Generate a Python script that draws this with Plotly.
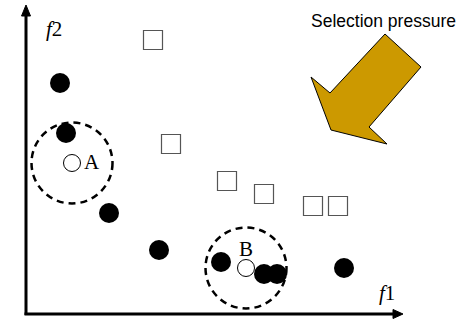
import plotly.graph_objects as go

# objective space (f1 to the right, f2 upwards)
front_f1 = [34, 40, 83, 133, 195, 238, 251, 318]
front_f2 = [231, 181, 101, 64, 52, 40, 40, 46]

dominated_f1 = [127, 145, 201, 238, 287, 312]
dominated_f2 = [274, 170, 133, 120, 108, 108]

selected_names = ["A", "B"]
selected_f1 = [46, 220]
selected_f2 = [151, 46]

niche_radius = 40.5

SERIF = "Liberation Serif, Times New Roman, serif"
SANS = "Arial, Liberation Sans, sans-serif"

fig = go.Figure()

# dashed neighbourhoods around A and B
shapes = []
for x, y in zip(selected_f1, selected_f2):
    shapes.append(dict(type="circle", xref="x", yref="y",
                       x0=x - niche_radius, x1=x + niche_radius,
                       y0=y - niche_radius, y1=y + niche_radius,
                       line=dict(color="black", width=2.5, dash="7px,5px"),
                       layer="below"))

# axes with arrow heads
shapes.append(dict(type="line", x0=0, y0=-1, x1=0, y1=300, line=dict(color="black", width=3)))
shapes.append(dict(type="path", path="M -4.5 298 L 0 309 L 4.5 298 Z",
                   fillcolor="black", line=dict(color="black", width=1)))
shapes.append(dict(type="line", x0=-1.5, y0=0, x1=368, y1=0, line=dict(color="black", width=3)))
shapes.append(dict(type="path", path="M 367 4.5 L 377 0 L 367 -4.5 Z",
                   fillcolor="black", line=dict(color="black", width=1)))

# selection pressure arrow
arrow = [(359, 280), (395, 247), (343, 187), (361, 170), (305, 184), (285, 237), (304, 221)]
shapes.append(dict(type="path",
                   path="M " + " L ".join(f"{x} {y}" for x, y in arrow) + " Z",
                   fillcolor="#CC9900", line=dict(color="black", width=1)))

fig.add_trace(go.Scatter(x=dominated_f1, y=dominated_f2, mode="markers",
                         marker=dict(symbol="square", size=19, color="white",
                                     line=dict(color="#555555", width=1.2))))
fig.add_trace(go.Scatter(x=front_f1, y=front_f2, mode="markers",
                         marker=dict(symbol="circle", size=20, color="black",
                                     line=dict(width=0))))
fig.add_trace(go.Scatter(x=selected_f1, y=selected_f2, mode="markers",
                         marker=dict(symbol="circle", size=17, color="white",
                                     line=dict(color="black", width=1))))

annotations = [
    dict(x=selected_f1[0] + 20, y=selected_f2[0] + 1, text=selected_names[0]),
    dict(x=selected_f1[1], y=selected_f2[1] + 19, text=selected_names[1]),
]
for a in annotations:
    a.update(showarrow=False, font=dict(family=SERIF, size=21, color="black"))
annotations += [
    dict(x=28, y=285, text="<i>f</i>2", showarrow=False,
         font=dict(family=SERIF, size=21, color="black")),
    dict(x=361, y=21, text="<i>f</i>1", showarrow=False,
         font=dict(family=SERIF, size=21, color="black")),
    dict(x=357, y=293, text="Selection pressure", showarrow=False,
         font=dict(family=SANS, size=17.5, color="black")),
]

fig.update_layout(width=463, height=320, margin=dict(l=0, r=0, t=0, b=0),
                  paper_bgcolor="white", plot_bgcolor="white",
                  showlegend=False, shapes=shapes, annotations=annotations)
fig.update_xaxes(range=[-26, 437], visible=False)
fig.update_yaxes(range=[-6, 314], visible=False)

fig.write_html("out.html", config={"displayModeBar": False},
               post_script="document.body.style.margin='0';")
